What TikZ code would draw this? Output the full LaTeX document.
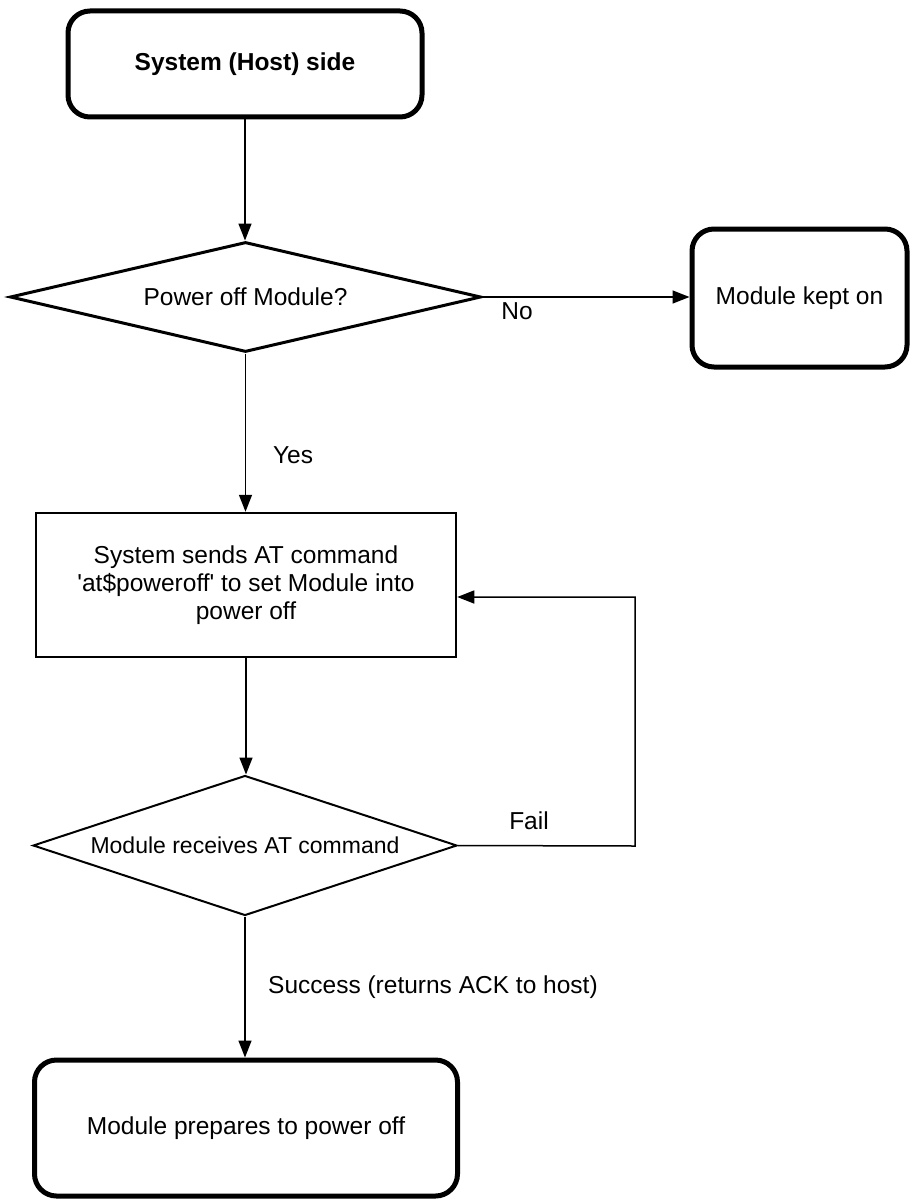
\documentclass[tikz,border=0pt]{standalone}
\usepackage{fontspec}
\setmainfont{Liberation Sans}
\usetikzlibrary{arrows.meta,shapes.geometric}

% straight apostrophe, bypassing the TeX quote mapping
\newcommand{\sq}{\XeTeXglyph\XeTeXcharglyph"27\relax}

\tikzset{
  base/.style={font=\fontsize{24.5}{28}\selectfont, text=black, align=center},
  terminal/.style={base, draw, line width=5pt, rounded corners=22pt, minimum width=#1},
  process/.style={base, draw, line width=2.5pt, minimum width=420pt, minimum height=144pt, inner sep=0pt},
  decision/.style={base, draw, shape=diamond, inner sep=0pt},
  link/.style={line width=1.5pt, -{Triangle[length=17pt,width=13pt]}},
  edgelabel/.style={font=\fontsize{24.5}{28}\selectfont, inner sep=0pt}
}

\begin{document}
\begin{tikzpicture}[x=1pt,y=-1pt]
  \useasboundingbox (0,0) rectangle (911,1201);

  % start / host side
  \node[terminal=354pt, minimum height=106pt, font=\fontsize{24.5}{28}\selectfont\bfseries]
    (host) at (245,64) {System (Host) side};

  % first decision
  \node[decision, line width=3pt, shape aspect=4.28, minimum width=471pt, minimum height=110pt]
    (ask) at (245.5,297) {Power off Module?};

  % module stays on
  \node[terminal=215pt, minimum height=138pt] (kept) at (799.5,298) {Module kept on};

  % send the AT command
  \node[process] (send) at (246,585)
    {System sends AT command\\\sq at\$poweroff\sq{} to set Module into\\power off};

  % second decision
  \node[decision, line width=2pt, shape aspect=3.03, minimum width=424pt, minimum height=140pt,
        font=\fontsize{23}{27}\selectfont]
    (recv) at (245,845.5) {Module receives AT command};

  % end state
  \node[terminal=423pt, minimum height=136pt] (off) at (246,1128) {Module prepares to power off};

  % corner of the retry loop
  \coordinate (loop) at (635,846);

  % connectors
  \draw[link] (host.south) -- (host.south |- ask.north);
  \draw[link] (ask.east) -- (ask.east -| kept.west);
  \draw[link] (ask.south) -- (ask.south |- send.north);
  \draw[link] (send.south) -- (send.south |- recv.north);
  \draw[link] (recv.east) -- (loop) |- ([yshift=-12pt]send.east);
  \draw[link] (recv.south) -- (recv.south |- off.north);

  % connector labels
  \node[edgelabel] (lno) at (517,311) {No};
  \node[edgelabel] (lyes) at (293,455) {Yes};
  \node[edgelabel] (lfail) at (529,821) {Fail};
  \node[edgelabel, anchor=west] (lok) at (268,987) {Success (returns ACK to host)};
\end{tikzpicture}
\end{document}
